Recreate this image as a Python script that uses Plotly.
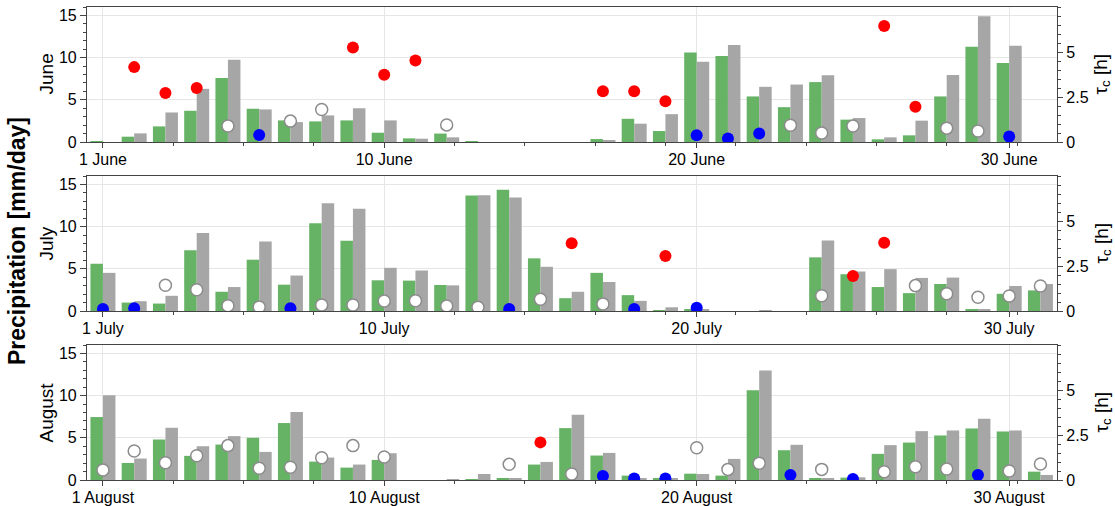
import plotly.graph_objects as go

# ---------------- daily precipitation [mm/day] ----------------
june_days = list(range(1, 31))
june_obs = [0.1, 0.63, 1.85, 3.7, 7.6, 3.94, 2.56, 2.44, 2.56, 1.1,
            0.43, 1.0, 0.05, 0, 0, 0, 0.35, 2.75, 1.3, 10.6,
            10.2, 5.4, 4.13, 7.1, 2.65, 0.32, 0.79, 5.4, 11.3, 9.37]
june_ref = [0, 1.02, 3.5, 6.3, 9.76, 3.86, 2.36, 3.15, 4.0, 2.56,
            0.39, 0.55, 0, 0, 0, 0, 0.15, 2.17, 3.3, 9.5,
            11.5, 6.54, 6.81, 7.9, 2.84, 0.55, 2.53, 7.95, 14.9, 11.4]

july_days = list(range(1, 32))
july_obs = [5.6, 1.0, 0.88, 7.2, 2.28, 6.08, 3.12, 10.4, 8.32, 3.64,
            3.6, 3.08, 13.68, 14.36, 6.24, 1.52, 4.52, 1.88, 0.08, 0.2,
            0, 0, 0, 6.36, 4.36, 2.84, 2.12, 3.2, 0.24, 2.04, 2.44]
july_ref = [4.52, 1.16, 1.8, 9.24, 2.84, 8.24, 4.2, 12.76, 12.12, 5.12,
            4.8, 3.04, 13.72, 13.44, 5.24, 2.28, 3.44, 1.2, 0.44, 0.2,
            0, 0.05, 0, 8.36, 4.68, 4.96, 3.92, 3.96, 0.24, 2.96, 3.2]

aug_days = list(range(1, 32))
aug_obs = [7.46, 2.02, 4.8, 2.86, 4.2, 5.0, 6.75, 2.18, 1.47, 2.38,
           0, 0, 0.08, 0.16, 1.83, 6.15, 2.9, 0.52, 0.16, 0.75,
           0.52, 10.63, 3.53, 0.24, 0.28, 3.1, 4.44, 5.28, 6.11, 5.75, 0.99]
aug_ref = [10.04, 2.54, 6.19, 4.0, 5.2, 3.33, 8.06, 2.66, 1.83, 3.17,
           0, 0.04, 0.71, 0.16, 2.14, 7.74, 3.21, 0.2, 0.2, 0.71,
           2.5, 12.98, 4.17, 0.16, 0.32, 4.13, 5.79, 5.87, 7.26, 5.87, 0.6]

# ---------------- tau [h] with its class (H = high, L = low, M = medium) ----------------
june_tau_days = [2, 3, 4, 5, 6, 7, 8, 9, 10, 11, 12, 17, 18, 19, 20, 21,
                 22, 23, 24, 25, 26, 27, 28, 29, 30]
june_tau = [4.16, 2.72, 3.0, 0.89, 0.39, 1.16, 1.81, 5.25, 3.73, 4.53, 0.95,
            2.82, 2.82, 2.26, 0.37, 0.19, 0.47, 0.93, 0.5, 0.89, 6.45, 1.96,
            0.77, 0.61, 0.3]
june_tau_class = ["H", "H", "H", "M", "L", "M", "M", "H", "H", "H", "M",
                  "H", "H", "H", "L", "L", "L", "M", "M", "M", "H", "H",
                  "M", "M", "L"]

july_tau_days = [1, 2, 3, 4, 5, 6, 7, 8, 9, 10, 11, 12, 13, 14, 15, 16, 17,
                 18, 19, 20, 24, 25, 26, 27, 28, 29, 30, 31]
july_tau = [0.11, 0.15, 1.43, 1.18, 0.29, 0.22, 0.15, 0.33, 0.33, 0.56, 0.57,
            0.28, 0.21, 0.11, 0.65, 3.76, 0.39, 0.11, 3.06, 0.18, 0.85, 1.94,
            3.79, 1.41, 0.96, 0.76, 0.83, 1.39]
july_tau_class = ["L", "L", "M", "M", "M", "M", "L", "M", "M", "M", "M",
                  "M", "M", "L", "M", "H", "M", "L", "H", "L", "M", "H",
                  "H", "M", "M", "M", "M", "M"]

aug_tau_days = [1, 2, 3, 4, 5, 6, 7, 8, 9, 10, 14, 15, 16, 17, 18, 19, 20,
                21, 22, 23, 24, 25, 26, 27, 28, 29, 30, 31]
aug_tau = [0.56, 1.61, 0.96, 1.35, 1.91, 0.65, 0.71, 1.24, 1.91, 1.28, 0.87,
           2.09, 0.33, 0.22, 0.09, 0.09, 1.79, 0.59, 0.93, 0.28, 0.59, 0.06,
           0.46, 0.74, 0.61, 0.28, 0.5, 0.89]
aug_tau_class = ["M", "M", "M", "M", "M", "M", "M", "M", "M", "M", "M",
                 "H", "M", "L", "L", "L", "M", "M", "M", "L", "M", "L",
                 "M", "M", "M", "L", "M", "M"]

x_tick_days = [1, 10, 20, 30]

months = [
    ("June", june_days, june_obs, june_ref, june_tau_days, june_tau, june_tau_class),
    ("July", july_days, july_obs, july_ref, july_tau_days, july_tau, july_tau_class),
    ("August", aug_days, aug_obs, aug_ref, aug_tau_days, aug_tau, aug_tau_class),
]

# ---------------- styling ----------------
FONT = "Liberation Sans, Arial, Helvetica, sans-serif"
OBS_COLOR = "#66b366"
REF_COLOR = "#a6a6a6"
FILL = {"H": "#ff0000", "L": "#0000ff", "M": "#ffffff"}
EDGE_W = {"H": 0, "L": 0, "M": 1.5}
AXIS_COLOR = "#444444"
GRID_COLOR = "#e6e6e6"

W, H = 1115, 506
M_L, M_R, M_T, M_B = 87, 58, 7, 26
plot_w = W - M_L - M_R
plot_h = H - M_T - M_B
panel_h, gap = 135, 34

# panel domains, top to bottom
domains = []
for i in range(3):
    top = plot_h - i * (panel_h + gap)
    domains.append([(top - panel_h) / plot_h, top / plot_h])

x_minor = [1 + 2.25 * k for k in range(14)]
tau_minor = [0.5 * k for k in range(16)]

fig = go.Figure()
layout = dict(
    width=W, height=H,
    margin=dict(l=M_L, r=M_R, t=M_T, b=M_B, autoexpand=False),
    plot_bgcolor="white", paper_bgcolor="white",
    barmode="overlay", showlegend=False,
    font=dict(family=FONT, size=15, color="black"),
    annotations=[],
)

for i, (name, days, obs, ref, tdays, tau, tcls) in enumerate(months):
    xa = "x" if i == 0 else f"x{i + 1}"
    yl = "y" if i == 0 else f"y{2 * i + 1}"
    yr = f"y{2 * i + 2}"

    fig.add_trace(go.Bar(x=days, y=obs, offset=-0.4, width=0.4,
                         marker=dict(color=OBS_COLOR, line=dict(width=0)),
                         xaxis=xa, yaxis=yl))
    fig.add_trace(go.Bar(x=days, y=ref, offset=0.0, width=0.4,
                         marker=dict(color=REF_COLOR, line=dict(width=0)),
                         xaxis=xa, yaxis=yl))
    fig.add_trace(go.Scatter(
        x=tdays, y=tau, mode="markers", xaxis=xa, yaxis=yr, cliponaxis=True,
        marker=dict(size=12, color=[FILL[c] for c in tcls],
                    line=dict(color="#8c8c8c", width=[EDGE_W[c] for c in tcls])),
    ))

    xkey = "xaxis" if i == 0 else f"xaxis{i + 1}"
    ylkey = "yaxis" if i == 0 else f"yaxis{2 * i + 1}"
    yrkey = f"yaxis{2 * i + 2}"

    layout[xkey] = dict(
        domain=[0, 1], anchor=yl, range=[0.49, 31.53],
        tickmode="array", tickvals=x_tick_days,
        ticktext=[f"{d} {name}" for d in x_tick_days],
        ticks="outside", ticklen=5, tickcolor=AXIS_COLOR, tickwidth=1,
        ticklabelstandoff=-2,
        showline=True, linecolor=AXIS_COLOR, linewidth=1.2, mirror=True,
        showgrid=True, gridcolor=GRID_COLOR, gridwidth=1, zeroline=False,
        minor=dict(tickmode="array", tickvals=x_minor, ticks="outside",
                   ticklen=3, tickcolor=AXIS_COLOR, showgrid=False),
        tickfont=dict(size=16),
    )
    layout[ylkey] = dict(
        domain=domains[i], anchor=xa, range=[0, 16],
        tickmode="array", tickvals=[0, 5, 10, 15],
        ticks="outside", ticklen=6, tickcolor=AXIS_COLOR,
        showline=True, linecolor=AXIS_COLOR, linewidth=1.2, mirror=True,
        showgrid=True, gridcolor=GRID_COLOR, gridwidth=1, zeroline=False,
        minor=dict(tickmode="linear", tick0=0, dtick=1, ticks="outside",
                   ticklen=3, tickcolor=AXIS_COLOR, showgrid=False),
        tickfont=dict(size=16),
    )
    layout[yrkey] = dict(
        overlaying=yl, anchor=xa, side="right", range=[0, 7.5],
        tickmode="array", tickvals=[0, 2.5, 5], ticktext=["0", "2.5", "5"],
        ticks="outside", ticklen=5, tickcolor=AXIS_COLOR,
        showline=True, linecolor=AXIS_COLOR, linewidth=1.2,
        showgrid=False, zeroline=False,
        minor=dict(tickmode="array", tickvals=tau_minor, ticks="outside",
                   ticklen=3, tickcolor=AXIS_COLOR, showgrid=False),
        tickfont=dict(size=16),
    )

    yc = (domains[i][0] + domains[i][1]) / 2
    layout["annotations"].append(dict(
        text=name, xref="paper", yref="paper", x=(46 - M_L) / plot_w, y=yc,
        xanchor="center", yanchor="middle", textangle=-90, showarrow=False,
        font=dict(size=19)))
    layout["annotations"].append(dict(
        text="τ<sub>c</sub> [h]", xref="paper", yref="paper",
        x=(1102 - M_L) / plot_w, y=yc, xanchor="center", yanchor="middle",
        textangle=-90, showarrow=False, font=dict(size=19)))

layout["annotations"].append(dict(
    text="<b>Precipitation [mm/day]</b>", xref="paper", yref="paper",
    x=(17 - M_L) / plot_w, y=(H - M_B - 241) / plot_h,
    xanchor="center", yanchor="middle", textangle=-90, showarrow=False,
    font=dict(size=23)))

fig.update_layout(**layout)
fig.write_html("out.html")
